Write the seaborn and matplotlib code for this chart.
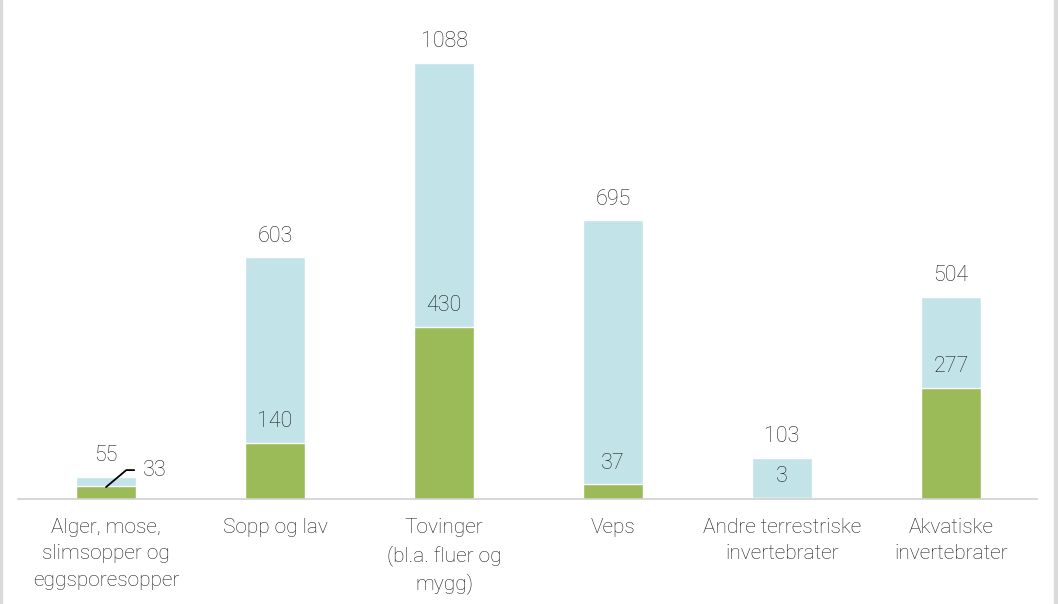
import matplotlib
matplotlib.use("Agg")
import matplotlib.pyplot as plt
import seaborn as sns
import pandas as pd
from matplotlib.patches import Rectangle

# categories and values
categories = ["Alger, mose,\nslimsopper og\neggsporesopper", "Sopp og lav",
              "Tovinger\n(bl.a. fluer og\nmygg)", "Veps",
              "Andre terrestriske\ninvertebrater", "Akvatiske\ninvertebrater"]
total = [55, 603, 1088, 695, 103, 504]
subset = [33, 140, 430, 37, 3, 277]

df = pd.DataFrame({"cat": categories, "total": total, "subset": subset})

sns.set_style("white")
plt.rcParams["font.family"] = ["Roboto", "DejaVu Sans"]

blue = "#c2e4e9"
green = "#9bbb59"
txt = "#1e1e1e"

fig = plt.figure(figsize=(10.58, 6.04), dpi=100)
ax = fig.add_axes([18 / 1058, 105 / 604, 1019 / 1058, 461 / 604])

sns.barplot(data=df, x="cat", y="total", order=categories, color=blue,
            width=0.355, saturation=1, ax=ax)
sns.barplot(data=df, x="cat", y="subset", order=categories, color=green,
            width=0.355, saturation=1, ax=ax)

ax.set_xlim(-0.521, 5.509)
ax.set_ylim(0, 1150)

num_fs = 15.5
# value labels
for i, v in enumerate(total):
    ax.annotate(str(v), (i, v), xytext=(0, 21), textcoords="offset pixels",
                ha="center", va="center", fontsize=num_fs, color=txt,
                fontweight="light")
for i, v in enumerate(subset):
    if i == 0:
        ax.annotate(str(v), (i, v * 0.9), xytext=(37, 17),
                    textcoords="offset pixels", ha="left", va="center",
                    fontsize=num_fs, color=txt, fontweight="light",
                    arrowprops=dict(arrowstyle="-", color="black", lw=1.3,
                                    shrinkA=4, shrinkB=0,
                                    connectionstyle="angle,angleA=0,angleB=40,rad=0"))
    else:
        ax.annotate(str(v), (i, v), xytext=(0, 21), textcoords="offset pixels",
                    ha="center", va="center", fontsize=num_fs, color=txt,
                    fontweight="light")

ax.set_xlabel("")
ax.set_ylabel("")
ax.set_yticks([])
ax.set_xticks(range(len(categories)))
ax.set_xticklabels(categories, fontsize=15, color=txt, fontweight="light",
                   linespacing=1.47)
ax.tick_params(axis="x", length=0, pad=14)
for s in ["top", "left", "right"]:
    ax.spines[s].set_visible(False)
ax.spines["bottom"].set_color("#d0d0d0")
ax.spines["bottom"].set_linewidth(1.2)

# thin grey frame strips at the image edges
fig.patches.append(Rectangle((0, 0), 2 / 1058, 1, transform=fig.transFigure,
                             color="#dadada", zorder=0))
fig.patches.append(Rectangle((1054 / 1058, 0), 4 / 1058, 1,
                             transform=fig.transFigure, color="#dadada", zorder=0))

fig.savefig("out.png", dpi=100)
